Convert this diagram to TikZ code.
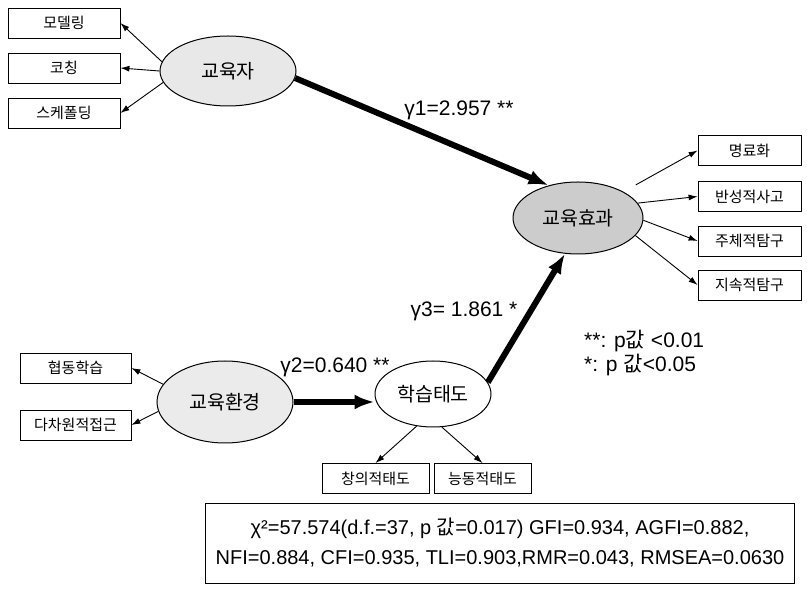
\documentclass[tikz,border=0pt]{standalone}
\usepackage{fontspec}
\setmainfont{Liberation Sans}
\newfontfamily\kr{Noto Sans CJK KR}
\usetikzlibrary{arrows.meta,shapes.geometric}
\begin{document}
\begin{tikzpicture}[x=1pt,y=-1pt,
  obs/.style={draw, line width=0.8pt, minimum height=30pt, inner sep=0pt, font=\kr\fontsize{15}{18}\selectfont},
  lat/.style={ellipse, draw, line width=1pt, inner sep=0pt, font=\kr\fontsize{19.5}{22}\selectfont},
  thinarr/.style={-{Latex[length=9pt,width=6pt]}, line width=0.9pt},
  thickarr/.style={-{Latex[length=20pt,width=15pt]}, line width=6pt},
  lbl/.style={font=\fontsize{21}{25}\selectfont, inner sep=0pt}]
\useasboundingbox (0,0) rectangle (807,593);
\fill[white] (0,0) rectangle (807,593);

% left indicators of 교육자
\node[obs, minimum width=112pt] (m1) at (64,23) {모델링};
\node[obs, minimum width=112pt] (m2) at (64,68) {코칭};
\node[obs, minimum width=112pt] (m3) at (64,113) {스케폴딩};
\node[lat, minimum width=136pt, minimum height=70pt, fill=black!9] (edu) at (228,71) {교육자};

% outcome
\node[lat, minimum width=130pt, minimum height=72pt, fill=black!20] (eff) at (578,218) {교육효과};
\node[obs, minimum width=103pt] (e1) at (749.5,150.5) {명료화};
\node[obs, minimum width=103pt] (e2) at (749.5,196.5) {반성적사고};
\node[obs, minimum width=103pt] (e3) at (749.5,241) {주체적탐구};
\node[obs, minimum width=103pt] (e4) at (749.5,285) {지속적탐구};

% environment
\node[lat, minimum width=136pt, minimum height=82pt, fill=black!8] (env) at (225,402) {교육환경};
\node[obs, minimum width=111pt] (c1) at (75.5,368) {협동학습};
\node[obs, minimum width=111pt] (c2) at (75.5,425) {다차원적접근};

% attitude
\node[lat, minimum width=116pt, minimum height=66pt, fill=white] (sa) at (433,394) {학습태도};
\node[obs, minimum width=107pt] (s1) at (375.5,478.5) {창의적태도};
\node[obs, minimum width=97pt] (s2) at (482.5,478.5) {능동적태도};

% fit box
\node[draw, line width=0.8pt, minimum width=589pt, minimum height=80pt, align=center,
      font=\fontsize{20}{30}\selectfont] (fit) at (500,543)
  {χ²=57.574(d.f.=37, p {\kr 값}=0.017) GFI=0.934, AGFI=0.882,\\
   NFI=0.884, CFI=0.935, TLI=0.903,RMR=0.043, RMSEA=0.0630};

% labels
\node[lbl] (g1) at (459,110) {γ1=2.957 **};
\node[lbl] (g2) at (335,367) {γ2=0.640 **};
\node[lbl] (g3) at (464,311) {γ3= 1.861 *};
\node[lbl, anchor=west] (l1) at (584,341) {**: p{\kr 값} <0.01};
\node[lbl, anchor=west] (l2) at (584,365) {*: p {\kr 값}<0.05};

% connectors
\draw[thinarr] (edu.172) -- (m1.east);
\draw[thinarr] (edu.180) -- (m2.east);
\draw[thinarr] (edu.190) -- (m3.east);
\draw[thinarr, shorten <=14pt] (eff.30) -- (e1.west);
\draw[thinarr] (eff.14) -- (e2.west);
\draw[thinarr] (eff.-2) -- (e3.west);
\draw[thinarr] (eff.-17) -- (e4.west);
\draw[thinarr] (env.164) -- (c1.east);
\draw[thinarr] (env.188) -- (c2.east);
\draw[thinarr] (sa.243) -- (s1.north);
\draw[thinarr] (sa.285) -- (s2.north);
\draw[thickarr] (edu.-6) -- (eff.132);
\draw[thickarr] (env.east) -- (sa.west |- env.east);
\draw[thickarr] (sa.12) -- (eff.250);
\end{tikzpicture}
\end{document}
